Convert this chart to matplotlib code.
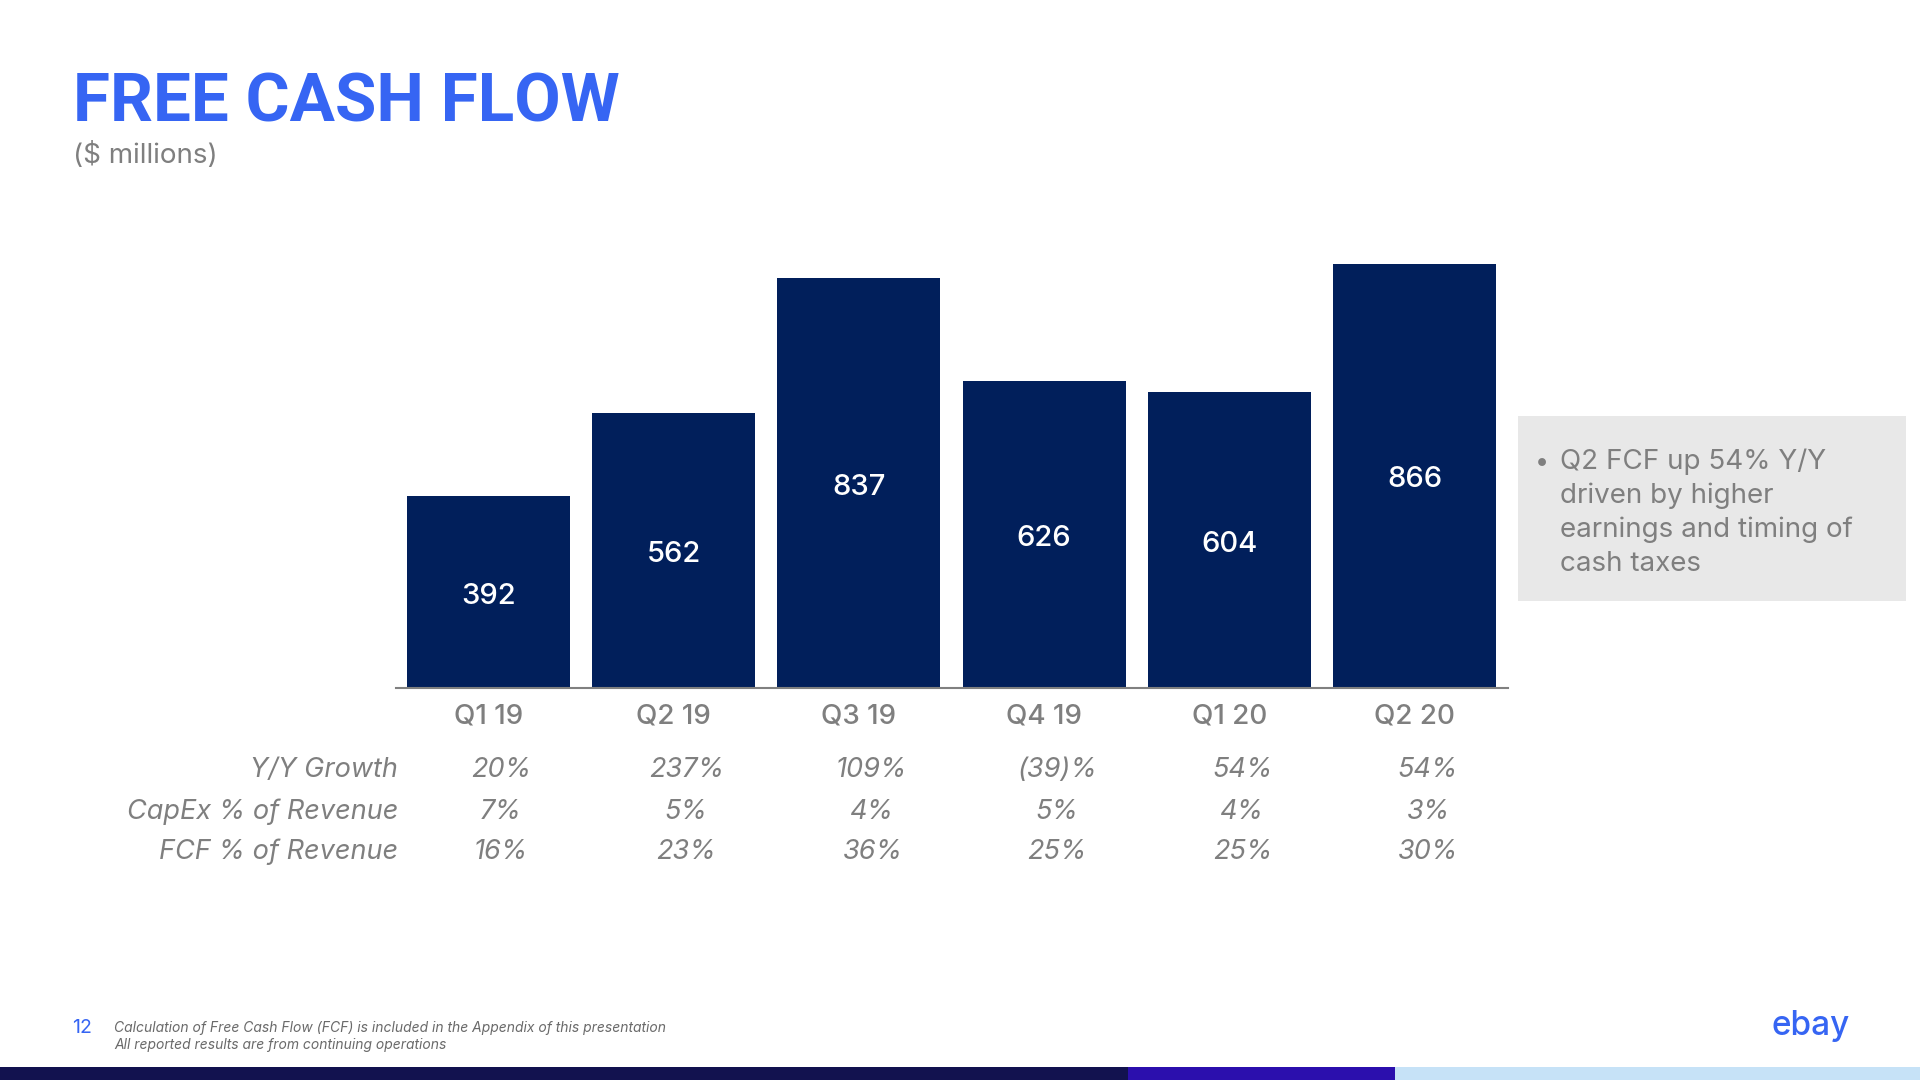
import numpy as np
import matplotlib.pyplot as plt
import matplotlib.transforms as mtransforms
from matplotlib.patches import Rectangle

# data
quarters = ['Q1 19', 'Q2 19', 'Q3 19', 'Q4 19', 'Q1 20', 'Q2 20']
fcf = [392, 562, 837, 626, 604, 866]
yy_growth = ['20%', '237%', '109%', '(39)%', '54%', '54%']
capex_pct = ['7%', '5%', '4%', '5%', '4%', '3%']
fcf_pct = ['16%', '23%', '36%', '25%', '25%', '30%']
row_names = ['Y/Y Growth', 'CapEx % of Revenue', 'FCF % of Revenue']
callout = ['Q2 FCF up 54% Y/Y', 'driven by higher',
           'earnings and timing of', 'cash taxes']
notes = ['Calculation of Free Cash Flow (FCF) is included in the Appendix of this presentation',
         'All reported results are from continuing operations']

BLUE = '#3665F3'
NAVY = '#011F5B'
GRAY = '#7f7f7f'

plt.rcParams['font.family'] = ['Inter', 'DejaVu Sans']

fig = plt.figure(figsize=(19.2, 10.8), dpi=100)
fig.patch.set_facecolor('white')

# bar chart area
ax = fig.add_axes([395.5 / 1920, 1 - 688 / 1080, 1112 / 1920, 441 / 1080])
x = np.arange(len(quarters))
ax.bar(x, fcf, width=0.88, color=NAVY)
ax.set_xlim(-0.5, 5.5)
ax.set_ylim(0, 900)
for xi, v in zip(x, fcf):
    ax.annotate(str(v), (xi, v / 2), xytext=(0, -3), textcoords='offset points',
                ha='center', va='center', color='white',
                fontsize=21, fontweight='medium')

ax.set_xticks(x)
ax.set_xticklabels(quarters, fontsize=20, color=GRAY, fontweight='medium')
ax.tick_params(axis='x', length=0, pad=11)
ax.set_yticks([])
for s in ['top', 'left', 'right']:
    ax.spines[s].set_visible(False)
ax.spines['bottom'].set_color('#808080')
ax.spines['bottom'].set_linewidth(1.5)

# table under the bars
trans = mtransforms.blended_transform_factory(ax.transData, fig.transFigure)
row_y = [1 - 770 / 1080, 1 - 812 / 1080, 1 - 852 / 1080]
for ry, name, vals in zip(row_y, row_names, [yy_growth, capex_pct, fcf_pct]):
    fig.text(398 / 1920, ry, name, ha='right', va='center', fontsize=19.5,
             style='italic', color=GRAY)
    for xi, v in zip(x, vals):
        ax.text(xi + 0.07, ry, v, transform=trans, ha='center', va='center',
                fontsize=19.5, style='italic', color=GRAY, clip_on=False)

# title
fig.text(73 / 1920, 1 - 121 / 1080, 'FREE CASH FLOW', fontsize=48.5,
         fontweight='bold', color=BLUE, va='baseline', family='Roboto')
fig.text(73 / 1920, 1 - 156 / 1080, '($ millions)', fontsize=20,
         color=GRAY, va='center')

# callout box
fig.patches.append(Rectangle((1518 / 1920, 1 - 601 / 1080), 388 / 1920, 185 / 1080,
                             transform=fig.transFigure, facecolor='#e8e8e8',
                             edgecolor='none'))
fig.text(1535 / 1920, 1 - 462 / 1080, '•', fontsize=18, color=GRAY, va='center')
for i, line in enumerate(callout):
    fig.text(1560 / 1920, 1 - (462 + 34 * i) / 1080, line, fontsize=20,
             color=GRAY, va='center')

# footer
fig.text(72 / 1920, 1 - 1028 / 1080, '12', fontsize=14, color=BLUE, va='center')
for i, line in enumerate(notes):
    fig.text(114 / 1920, 1 - (1028 + 17 * i) / 1080, line, fontsize=10,
             style='italic', color='#6a6a6a', va='center')
fig.text(1811 / 1920, 1 - 1026 / 1080, 'ebay', fontsize=24, color=BLUE,
         ha='center', va='center', fontweight='medium')

# colour stripe at the bottom
for x0, x1, c in [(0, 1128, '#12124f'), (1128, 1395, '#2b0fad'), (1395, 1920, '#c6e2f7')]:
    fig.patches.append(Rectangle((x0 / 1920, 0), (x1 - x0) / 1920, 13 / 1080,
                                 transform=fig.transFigure, facecolor=c,
                                 edgecolor='none'))

fig.savefig('out.png', dpi=100, facecolor='white')
